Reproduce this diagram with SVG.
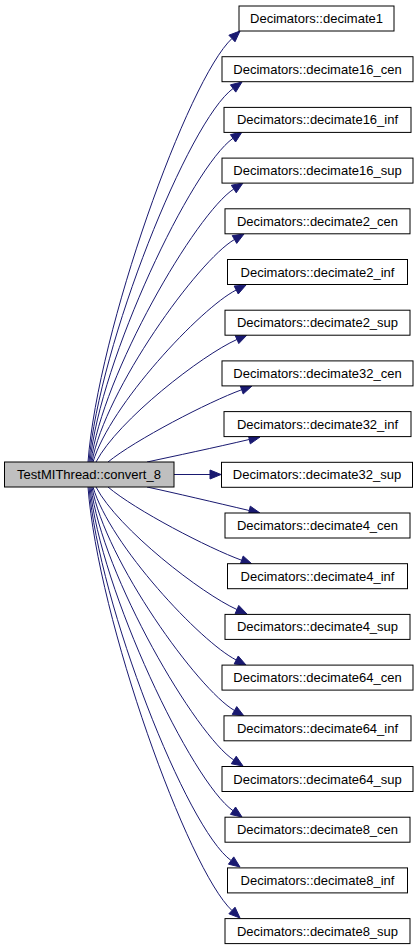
<svg xmlns="http://www.w3.org/2000/svg" width="419" height="949" viewBox="0 0 419 949">
<style>
.n rect{fill:#fff;stroke:#000;stroke-width:1}
.n text{font-family:"Liberation Sans",Arial,sans-serif;font-size:13px;text-anchor:middle;fill:#000}
#edges path{fill:none;stroke:#191970;stroke-width:1}
#edges polygon{fill:#191970;stroke:#191970;stroke-width:1}
</style>
<rect width="419" height="949" fill="#fff"/>
<g id="edges">
<path d="M88,462 C98,330 188.1,79.4 231.96,38.5"/><polygon points="240,31 235.03,41.79 228.89,35.21"/>
<path d="M89,462 C99,345 188.6,120.8 233.1,88.47"/><polygon points="242,82 235.75,92.11 230.45,84.83"/>
<path d="M90,462 C100,360 192,167 232.99,138.31"/><polygon points="242,132 235.57,142 230.41,134.62"/>
<path d="M91,462 C102,375 196,213.5 233.77,189"/><polygon points="243,183 236.22,192.78 231.32,185.22"/>
<path d="M92,462 C105,390 198.1,260.5 234.47,239.5"/><polygon points="244,234 236.72,243.4 232.22,235.6"/>
<path d="M93,462 C110,405 200.6,308.2 236.2,290"/><polygon points="246,285 238.24,294.01 234.16,285.99"/>
<path d="M96,462 C118,420 202.2,354.95 236.95,339.48"/><polygon points="247,335 238.78,343.59 235.12,335.37"/>
<path d="M108,462 C135,440 208.76,401.73 241.66,389.76"/><polygon points="252,386 243.2,393.99 240.12,385.53"/>
<path d="M147,462 C175,456 215,447.5 249.29,439.48"/><polygon points="260,437 250.3,443.86 248.28,435.1"/>
<path d="M174,474.5 L210,474.5"/><polygon points="221,474.5 210,479 210,470"/>
<path d="M147,487 C175,493 215,502.5 249.29,510.52"/><polygon points="260,513 248.28,514.9 250.3,506.14"/>
<path d="M108,487 C135,510 208.76,548.27 241.66,560.24"/><polygon points="252,564 240.12,564.47 243.2,556.01"/>
<path d="M96,487 C118,529 202.2,594.05 236.95,609.52"/><polygon points="247,614 235.12,613.63 238.78,605.41"/>
<path d="M93,487 C110,545 200.6,641.8 236.2,660"/><polygon points="246,665 234.16,664.01 238.24,655.99"/>
<path d="M92,487 C105,560 198.1,689.5 234.47,710.5"/><polygon points="244,716 232.22,714.4 236.72,706.6"/>
<path d="M91,487 C102,575 196,735.5 233.77,760"/><polygon points="243,766 231.32,763.78 236.22,756.22"/>
<path d="M90,487 C100,590 192,782 232.99,810.69"/><polygon points="242,817 230.41,814.38 235.57,807"/>
<path d="M89,487 C99,605 186.6,828.2 231.1,860.53"/><polygon points="240,867 228.45,864.17 233.75,856.89"/>
<path d="M88,487 C98,620 188.1,869.6 231.96,910.5"/><polygon points="240,918 228.89,913.79 235.03,907.21"/>
</g>
<g id="node_convert_8" class="n"><rect x="4.5" y="462" width="169.5" height="25" style="fill:#bfbfbf"/><text x="89" y="479">TestMIThread::convert_8</text></g>
<g id="node_decimate1" class="n"><rect x="239" y="6" width="155" height="25"/><text x="316.5" y="23">Decimators::decimate1</text></g>
<g id="node_decimate16_cen" class="n"><rect x="222" y="56.7" width="191" height="25"/><text x="317.5" y="73.7">Decimators::decimate16_cen</text></g>
<g id="node_decimate16_inf" class="n"><rect x="224" y="107.4" width="187" height="25"/><text x="317.5" y="124.4">Decimators::decimate16_inf</text></g>
<g id="node_decimate16_sup" class="n"><rect x="222" y="158.1" width="191" height="25"/><text x="317.5" y="175.1">Decimators::decimate16_sup</text></g>
<g id="node_decimate2_cen" class="n"><rect x="225" y="208.8" width="185" height="25"/><text x="317.5" y="225.8">Decimators::decimate2_cen</text></g>
<g id="node_decimate2_inf" class="n"><rect x="227.5" y="259.5" width="180" height="25"/><text x="317.5" y="276.5">Decimators::decimate2_inf</text></g>
<g id="node_decimate2_sup" class="n"><rect x="225" y="310.2" width="185" height="25"/><text x="317.5" y="327.2">Decimators::decimate2_sup</text></g>
<g id="node_decimate32_cen" class="n"><rect x="222" y="360.9" width="191" height="25"/><text x="317.5" y="377.9">Decimators::decimate32_cen</text></g>
<g id="node_decimate32_inf" class="n"><rect x="224" y="411.6" width="187" height="25"/><text x="317.5" y="428.6">Decimators::decimate32_inf</text></g>
<g id="node_decimate32_sup" class="n"><rect x="221.5" y="462.3" width="191" height="25"/><text x="317" y="479.3">Decimators::decimate32_sup</text></g>
<g id="node_decimate4_cen" class="n"><rect x="225" y="513" width="185" height="25"/><text x="317.5" y="530">Decimators::decimate4_cen</text></g>
<g id="node_decimate4_inf" class="n"><rect x="227.5" y="563.7" width="180" height="25"/><text x="317.5" y="580.7">Decimators::decimate4_inf</text></g>
<g id="node_decimate4_sup" class="n"><rect x="225" y="614.4" width="185" height="25"/><text x="317.5" y="631.4">Decimators::decimate4_sup</text></g>
<g id="node_decimate64_cen" class="n"><rect x="222" y="665.1" width="191" height="25"/><text x="317.5" y="682.1">Decimators::decimate64_cen</text></g>
<g id="node_decimate64_inf" class="n"><rect x="224" y="715.8" width="187" height="25"/><text x="317.5" y="732.8">Decimators::decimate64_inf</text></g>
<g id="node_decimate64_sup" class="n"><rect x="222" y="766.5" width="191" height="25"/><text x="317.5" y="783.5">Decimators::decimate64_sup</text></g>
<g id="node_decimate8_cen" class="n"><rect x="225" y="817.2" width="185" height="25"/><text x="317.5" y="834.2">Decimators::decimate8_cen</text></g>
<g id="node_decimate8_inf" class="n"><rect x="227.5" y="867.9" width="180" height="25"/><text x="317.5" y="884.9">Decimators::decimate8_inf</text></g>
<g id="node_decimate8_sup" class="n"><rect x="225" y="918.6" width="185" height="25"/><text x="317.5" y="935.6">Decimators::decimate8_sup</text></g>
</svg>
